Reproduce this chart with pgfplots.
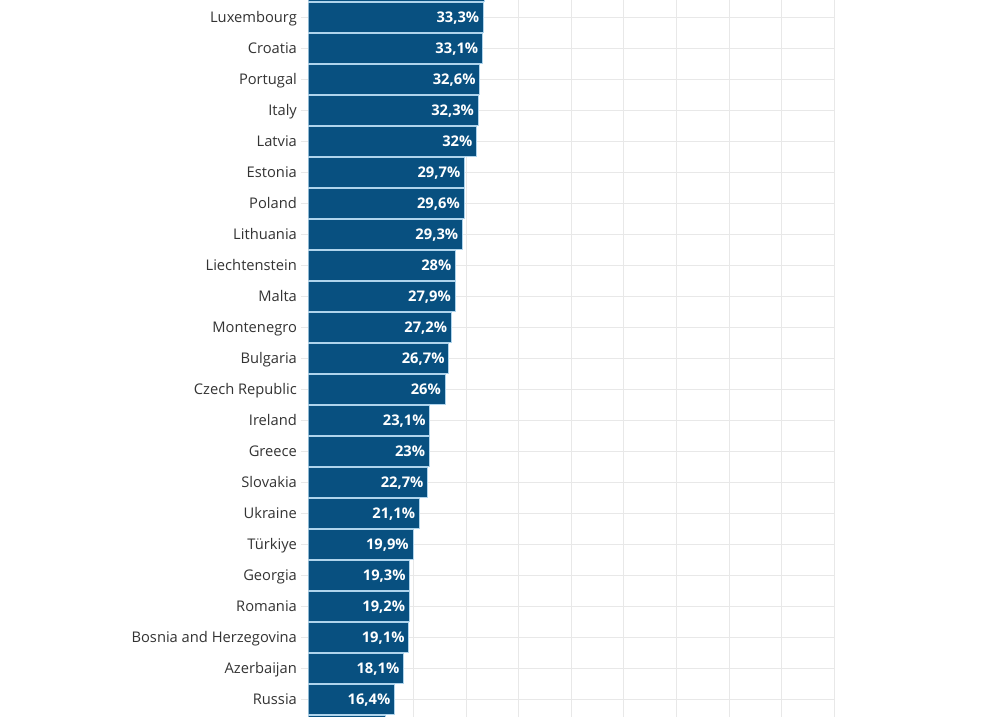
\documentclass[border=0pt]{standalone}
\usepackage{pgfplots}
\pgfplotsset{compat=1.18}
\usepackage{fontspec}
\setmainfont{Open Sans}
\definecolor{barblue}{RGB}{8,80,128}
\definecolor{baredge}{RGB}{175,212,236}
\definecolor{gridgray}{RGB}{232,232,232}
\definecolor{labelgray}{RGB}{51,51,51}
\begin{document}
\begin{tikzpicture}[x=1pt,y=1pt]
\useasboundingbox (0,0) rectangle (1001,717);
\begin{axis}[
  at={(308.3pt,0pt)}, anchor=south west,
  scale only axis, width=526pt, height=717pt,
  xmin=0, xmax=100,
  ymin=-0.568, ymax=22.565,
  y dir=reverse,
  clip=true,
  /pgf/number format/assume math mode=true,
  axis line style={draw=none},
  xtick={0,10,...,100}, xticklabels={},
  xtick style={draw=none},
  ytick={0,...,22},
  ytick pos=left,
  yticklabels={Luxembourg,Croatia,Portugal,Italy,Latvia,Estonia,Poland,Lithuania,Liechtenstein,Malta,Montenegro,Bulgaria,Czech Republic,Ireland,Greece,Slovakia,Ukraine,Türkiye,Georgia,Romania,Bosnia and Herzegovina,Azerbaijan,Russia},
  tick align=outside,
  major tick length=7.6pt,
  ytick style={draw=gridgray, line width=1pt},
  yticklabel style={anchor=east, inner sep=0pt, xshift=-3.6pt, text height=10.5pt, text depth=0pt, font=\fontsize{14.7}{17}\selectfont, text=labelgray},
  grid=major,
  major grid style={draw=gridgray, line width=1pt},
  xbar, bar width=29.6pt,
]
\addplot[xbar, bar shift=0pt, fill=barblue, draw=baredge, line width=0.9pt] coordinates {(33.45,-1) (14.6,23)};
\addplot[xbar, bar shift=0pt, fill=barblue, draw=baredge, line width=0.9pt,
  point meta=x,
  nodes near coords={\pgfmathprintnumber[use comma,fixed,precision=1,assume math mode=true]{\pgfplotspointmeta}\%},
  nodes near coords style={anchor=east, inner sep=0pt, xshift=-3.8pt, text height=10.5pt, text depth=0pt, text=white, font=\fontsize{14.7}{17}\selectfont\bfseries},
] coordinates {
(33.3,0) (33.1,1) (32.6,2) (32.3,3) (32,4) (29.7,5) (29.6,6) (29.3,7) (28,8) (27.9,9) (27.2,10) (26.7,11) (26,12) (23.1,13) (23,14) (22.7,15) (21.1,16) (19.9,17) (19.3,18) (19.2,19) (19.1,20) (18.1,21) (16.4,22)
};
\end{axis}
\end{tikzpicture}
\end{document}
